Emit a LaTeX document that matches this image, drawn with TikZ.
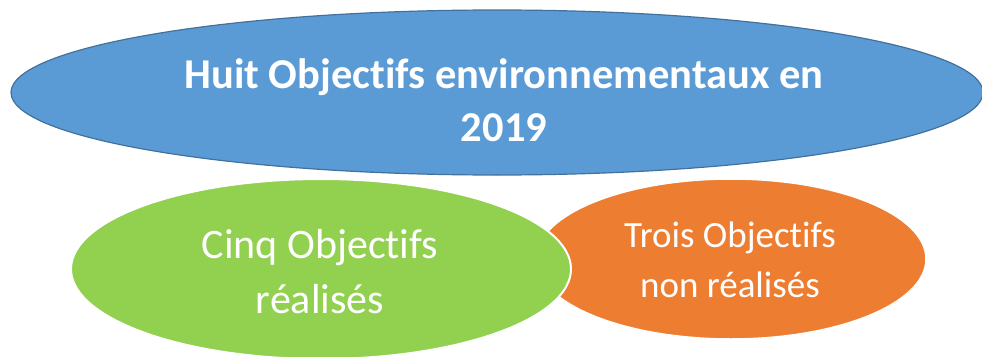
\documentclass[tikz,border=0pt]{standalone}
\usepackage{fontspec}
\setmainfont{Carlito}[Ligatures={NoCommon,NoRare,NoContextual}]
\usetikzlibrary{shapes.geometric}
\definecolor{blueF}{HTML}{5B9BD5}
\definecolor{blueD}{HTML}{41719C}
\definecolor{greenF}{HTML}{92D050}
\definecolor{orangeF}{HTML}{ED7D31}
\begin{document}
\begin{tikzpicture}[x=1pt,y=-1pt,
  blob/.style={ellipse, inner sep=0pt, outer sep=0pt},
  line/.style={anchor=base, inner sep=0pt, text=white}]
\useasboundingbox (0,0) rectangle (982,356);
% top ellipse
\node[blob, fill=blueF, draw=blueD, line width=1.2pt,
  minimum width=972pt, minimum height=165pt] (top) at (497,92.5) {};
\node[line, font=\bfseries\fontsize{42.5}{50}\selectfont] (t1) at (504,88) {Huit Objectifs environnementaux en};
\node[line, font=\bfseries\fontsize{42.5}{50}\selectfont] (t2) at (504,141) {2019};
% orange ellipse
\node[blob, fill=orangeF, draw=white, line width=1.5pt,
  minimum width=390pt, minimum height=160pt] (nr) at (731,259) {};
\node[line, font=\fontsize{37}{45}\selectfont] (o1) at (730,247) {Trois Objectifs};
\node[line, font=\fontsize{37}{45}\selectfont] (o2) at (730,297) {non réalisés};
% green ellipse
\node[blob, fill=greenF, draw=white, line width=2pt,
  minimum width=500pt, minimum height=180pt] (re) at (321,269) {};
\node[line, font=\fontsize{42}{50}\selectfont] (g1) at (320,258) {Cinq Objectifs};
\node[line, font=\fontsize{42}{50}\selectfont] (g2) at (320,313) {réalisés};
\end{tikzpicture}
\end{document}
